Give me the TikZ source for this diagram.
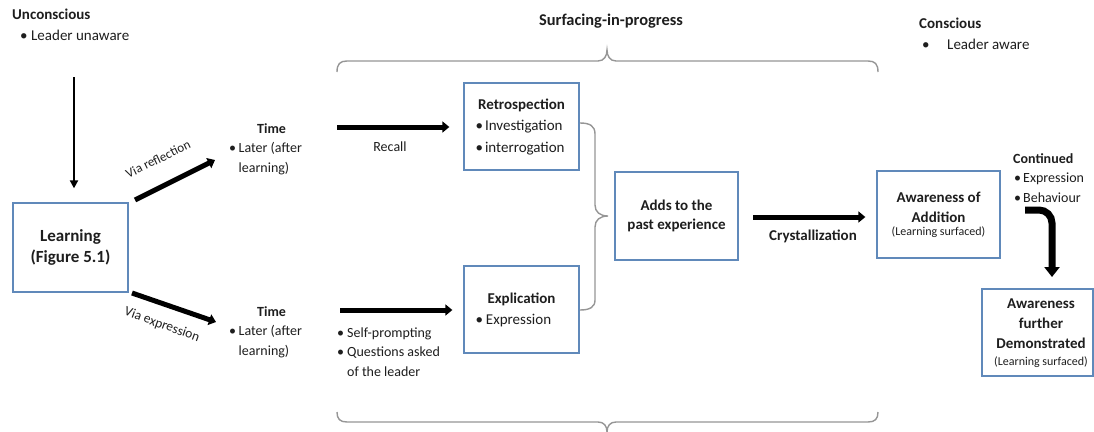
\documentclass[tikz,border=0pt]{standalone}
\usepackage{fontspec}
\setmainfont{Carlito}
\usetikzlibrary{arrows.meta}
\definecolor{boxblue}{RGB}{96,137,186}
\definecolor{bracegray}{RGB}{150,150,150}
\definecolor{txt}{RGB}{30,30,30}
\newcommand\fs[2]{\fontsize{#1}{#2}\selectfont}
\newcommand\bul[1]{\makebox[#1][l]{\textbullet}}
\begin{document}
\begin{tikzpicture}[x=1pt,y=-1pt,
 box/.style={draw=boxblue,line width=1.3pt,inner sep=0pt,text=txt,align=center},
 lbl/.style={inner sep=0pt,text=txt},
 arr/.style={line width=5pt,-{Triangle[length=7pt,width=11pt]}},
 thinarr/.style={line width=2.6pt,-{Triangle[length=8pt,width=8pt]}},
 bentarr/.style={line width=7pt,rounded corners=13pt,-{Triangle[length=10pt,width=15pt]}},
 brace/.style={draw=bracegray,line width=1.4pt},
]
\fill[white] (0,0) rectangle (1094,431);
\useasboundingbox (0,0) rectangle (1094,431);

% headings
\node[lbl,anchor=base west] (unc) at (12,19.5) {\fs{15}{21}\begin{tabular}[t]{@{}l@{}}\textbf{Unconscious}\\\hspace{8pt}\bul{11pt}Leader unaware\end{tabular}};
\node[lbl,anchor=base west] (cons) at (919,28) {\fs{15}{21}\begin{tabular}[t]{@{}l@{}}\textbf{Conscious}\\\hspace{3pt}\bul{25pt}Leader aware\end{tabular}};
\node[lbl] (surf) at (611,21) {\fs{16.4}{20}\bfseries Surfacing-in-progress};

% boxes
\node[box,minimum width=115pt,minimum height=89pt] (learn) at (70.5,247.5) {\fs{17}{21}\bfseries\begin{tabular}{@{}c@{}}Learning\\(Figure 5.1)\end{tabular}};
\node[box,minimum width=115pt,minimum height=87pt] (retro) at (521.5,126.5) {\fs{15}{21.5}\begin{tabular}{@{}l@{}}\makebox[92pt]{\textbf{Retrospection}}\\\bul{9.5pt}Investigation\\\bul{9.5pt}interrogation\end{tabular}};
\node[box,minimum width=115pt,minimum height=87pt] (expl) at (521.5,309.5) {\fs{15}{21}\begin{tabular}{@{}l@{}}\makebox[92pt]{\textbf{Explication}}\\\bul{10.5pt}Expression\end{tabular}};
\node[box,minimum width=123pt,minimum height=88pt] (adds) at (676.5,216) {\fs{15}{19}\bfseries\begin{tabular}{@{}c@{}}Adds to the\\past experience\end{tabular}};
\node[box,minimum width=123pt,minimum height=87pt] (awadd) at (938.5,214.5) {\fs{15}{20}\begin{tabular}{@{}c@{}}\textbf{Awareness of}\\\textbf{Addition}\\[-7pt]{\fs{12}{14}(Learning surfaced)}\end{tabular}};
\node[box,minimum width=111pt,minimum height=87pt] (awdem) at (1037.5,332.5) {\fs{15}{20}\begin{tabular}{@{\hspace{7pt}}c@{}}\textbf{Awareness}\\\textbf{further}\\\textbf{Demonstrated}\\[-3pt]{\fs{12}{14}(Learning surfaced)}\end{tabular}};

% side texts
\node[lbl,anchor=base west] (time1) at (229,133) {\fs{14}{19.5}\begin{tabular}[t]{@{}l@{}}\hspace{28pt}\textbf{Time}\\\bul{9.5pt}Later (after\\\hspace{9.5pt}learning)\end{tabular}};
\node[lbl,anchor=base west] (time2) at (229,316) {\fs{14}{19.5}\begin{tabular}[t]{@{}l@{}}\hspace{28pt}\textbf{Time}\\\bul{9.5pt}Later (after\\\hspace{9.5pt}learning)\end{tabular}};
\node[lbl,anchor=base west] (cont) at (1013,163) {\fs{14}{19.5}\begin{tabular}[t]{@{}l@{}}\textbf{Continued}\\\hspace{1pt}\bul{9pt}Expression\\\hspace{1pt}\bul{9pt}Behaviour\end{tabular}};
\node[lbl] (recall) at (390,147) {\fs{14}{17}Recall};
\node[lbl] (crys) at (813,236) {\fs{15}{18}\bfseries Crystallization};
\node[lbl,anchor=base west] (self) at (337,337) {\fs{14}{19.5}\begin{tabular}[t]{@{}l@{}}\bul{10pt}Self-prompting\\\bul{10pt}Questions asked\\\hspace{10pt}of the leader\end{tabular}};
\node[lbl,rotate=26] (vr) at (158,159) {\fs{13}{15}Via reflection};
\node[lbl,rotate=-20] (ve) at (162,325) {\fs{13.5}{15}Via expression};

% arrows
\coordinate (u1) at (74,77);
\draw[thinarr,shorten >=14pt] (u1) -- (u1 |- learn.north);
\coordinate (r1) at (135,200); \coordinate (r2) at (215,160);
\draw[arr] (r1) -- (r2);
\coordinate (e1) at (132,293); \coordinate (e2) at (216,322);
\draw[arr] (e1) -- (e2);
\coordinate (rc) at (337,127);
\draw[arr,shorten >=14pt] (rc) -- (rc -| retro.west);
\coordinate (lc) at (340,310);
\draw[arr,shorten >=11pt] (lc) -- (lc -| expl.west);
\coordinate (c1) at (753,217);
\draw[arr,shorten >=11pt] (c1) -- (c1 -| awadd.west);
\coordinate (b1) at (1025,210); \coordinate (b2) at (1052,277);
\draw[bentarr] (b1) -| (b2);

% braces
\draw[brace] (337,72) .. controls (337,64) and (340,61) .. (347,61) -- (598,61) .. controls (604,61) and (607,56) .. (607,50) .. controls (607,56) and (610,61) .. (616,61) -- (868,61) .. controls (875,61) and (878,64) .. (878,72);
\draw[brace] (337,412) .. controls (337,419) and (340,422) .. (347,422) -- (598,422) .. controls (604,422) and (607,426) .. (607,432) .. controls (607,426) and (610,422) .. (616,422) -- (868,422) .. controls (875,422) and (878,419) .. (878,412);
\draw[brace] (580,123) .. controls (590,123) and (595,126) .. (595,134) -- (595,205) .. controls (595,212) and (600,216) .. (608,216) .. controls (600,216) and (595,220) .. (595,227) -- (595,300) .. controls (595,307) and (590,310) .. (580,310);
\end{tikzpicture}
\end{document}
